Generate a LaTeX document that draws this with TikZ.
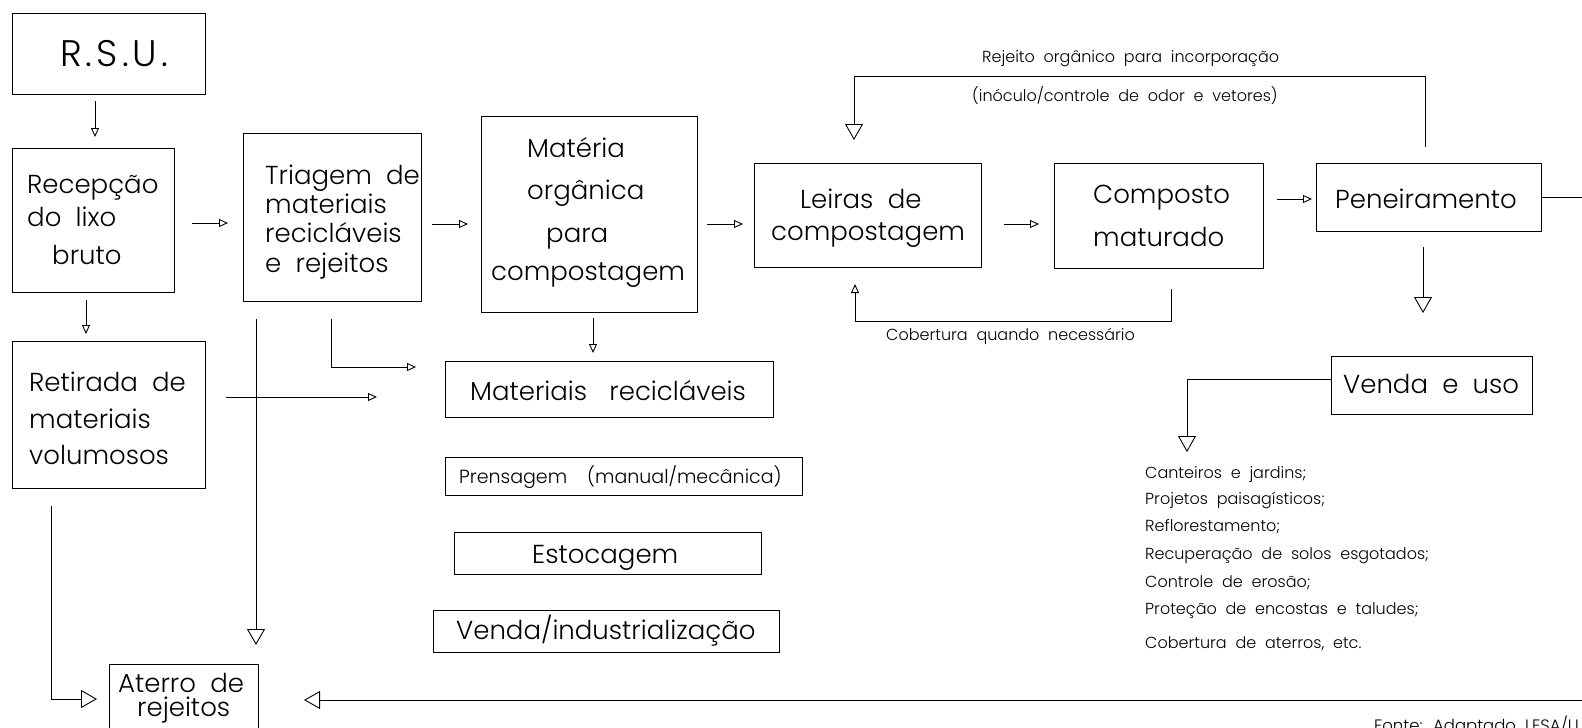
\documentclass[tikz,border=0pt]{standalone}
\usepackage{fontspec}
\setmainfont{Poppins}[UprightFont={* Light}, WordSpace=2]
\usetikzlibrary{arrows.meta}
\newcommand\myfs[1]{\fontsize{#1}{#1}\selectfont}
\tikzset{
  box/.style={draw, line width=0.9pt, inner sep=0pt, anchor=north west},
  ln/.style={line width=0.9pt},
  sa/.style={ln, -{Triangle[open, length=9pt, width=8pt]}},
  ba/.style={ln, -{Triangle[open, length=16pt, width=18pt]}},
  txt/.style={anchor=base west, inner sep=0pt, font=\myfs{26}},
  sm/.style={anchor=base west, inner sep=0pt, font=\myfs{16}},
}
\begin{document}
\begin{tikzpicture}[x=1pt, y=-1pt]
\useasboundingbox (0,0) rectangle (1582,728);
\clip (0,0) rectangle (1582,728);
\fill[white] (0,0) rectangle (1582,728);
% boxes
\node[box, minimum width=193pt, minimum height=81pt] (rsu) at (12,13) {};
\node[box, minimum width=162pt, minimum height=144pt] (rec) at (12,148) {};
\node[box, minimum width=178pt, minimum height=168pt] (tri) at (243,133) {};
\node[box, minimum width=216pt, minimum height=196pt] (mat) at (481,116) {};
\node[box, minimum width=227pt, minimum height=104pt] (lei) at (754,163) {};
\node[box, minimum width=209pt, minimum height=105pt] (com) at (1054,163) {};
\node[box, minimum width=225pt, minimum height=68pt] (pen) at (1316,163) {};
\node[box, minimum width=201pt, minimum height=58pt] (ven) at (1331,356) {};
\node[box, minimum width=193pt, minimum height=147pt] (ret) at (12,341) {};
\node[box, minimum width=328pt, minimum height=56pt] (mrec) at (445,361) {};
\node[box, minimum width=357pt, minimum height=38pt] (prs) at (445,457) {};
\node[box, minimum width=307pt, minimum height=42pt] (est) at (454,532) {};
\node[box, minimum width=346pt, minimum height=42pt] (vin) at (433,610) {};
\node[box, minimum width=149pt, minimum height=76pt] (ate) at (109,664) {};
% texts
\node[txt, font=\myfs{37}\addfontfeatures{LetterSpace=11}] (t0) at (60,66) {R.S.U.};
\node[txt] (t1) at (27,193) {Recepção};
\node[txt] (t2) at (27,226) {do lixo};
\node[txt] (t3) at (52,264) {bruto};
\node[txt] (t4) at (265,184) {Triagem de};
\node[txt] (t5) at (265,213) {materiais};
\node[txt] (t6) at (265,242) {recicláveis};
\node[txt] (t7) at (265,272) {e rejeitos};
\node[txt] (t8) at (527,157) {Matéria};
\node[txt] (t9) at (527,199) {orgânica};
\node[txt] (t10) at (546,242) {para};
\node[txt] (t11) at (491,280) {compostagem};
\node[txt] (t12) at (800,208) {Leiras de};
\node[txt] (t13) at (771,240) {compostagem};
\node[txt] (t14) at (1093,203) {Composto};
\node[txt] (t15) at (1093,246) {maturado};
\node[txt] (t16) at (1335,208) {Peneiramento};
\node[txt] (t17) at (1343,393) {Venda e uso};
\node[txt] (t18) at (470,400) {Materiais\hspace{8pt} recicláveis};
\node[txt, font=\myfs{19}] (t19) at (459,483) {Prensagem\hspace{20pt}(manual/mecânica)};
\node[txt] (t20) at (532,563) {Estocagem};
\node[txt] (t21) at (456,639) {Venda/industrialização};
\node[txt] (t22) at (29,391) {Retirada de};
\node[txt] (t23) at (29,428) {materiais};
\node[txt] (t24) at (29,464) {volumosos};
\node[txt] (t25) at (118,692) {Aterro de};
\node[txt] (t26) at (137,716) {rejeitos};
\node[sm] (l1) at (982,62) {Rejeito orgânico para incorporação};
\node[sm] (l2) at (972,101) {(inóculo/controle de odor e vetores)};
\node[sm] (l3) at (886,340) {Cobertura quando necessário};
\node[sm] (u1) at (1145,478) {Canteiros e jardins;};
\node[sm] (u2) at (1145,504) {Projetos paisagísticos;};
\node[sm] (u3) at (1145,531) {Reflorestamento;};
\node[sm] (u4) at (1145,559) {Recuperação de solos esgotados;};
\node[sm] (u5) at (1145,587) {Controle de erosão;};
\node[sm] (u6) at (1145,614) {Proteção de encostas e taludes;};
\node[sm] (u7) at (1145,648) {Cobertura de aterros, etc.};
\node[sm, font=\myfs{16.5}] (fo) at (1374,731) {Fonte: Adaptado LESA/U};
% connector endpoints
\coordinate (a1s) at (95,101);   \coordinate (a1e) at (95,137);
\coordinate (a2s) at (192,223);  \coordinate (a2e) at (228,223);
\coordinate (a3s) at (432,224);  \coordinate (a3e) at (468,224);
\coordinate (a4s) at (707,224);  \coordinate (a4e) at (743,224);
\coordinate (a5s) at (1004,224); \coordinate (a5e) at (1039,224);
\coordinate (a6s) at (1277,199); \coordinate (a6e) at (1312,199);
\coordinate (a7e) at (1590,197);
\coordinate (a8s) at (1425,147); \coordinate (a8a) at (1425,76);
\coordinate (a8b) at (854,76);   \coordinate (a8e) at (854,140);
\coordinate (a9s) at (1171,289); \coordinate (a9a) at (1171,321);
\coordinate (a9b) at (855,321);  \coordinate (a9e) at (855,284);
\coordinate (a10s) at (1423,247); \coordinate (a10e) at (1423,313);
\coordinate (a11a) at (1187,379); \coordinate (a11e) at (1187,452);
\coordinate (a12s) at (86,300);  \coordinate (a12e) at (86,334);
\coordinate (a13s) at (226,397); \coordinate (a13e) at (377,397);
\coordinate (a14s) at (256,319); \coordinate (a14e) at (256,645);
\coordinate (a15s) at (331,319); \coordinate (a15a) at (331,367);
\coordinate (a15e) at (416,367);
\coordinate (a16s) at (593,318); \coordinate (a16e) at (593,353);
\coordinate (a17s) at (51,506);  \coordinate (a17a) at (51,699);
\coordinate (a17e) at (97,699);
\coordinate (a18s) at (1590,700); \coordinate (a18e) at (304,700);
% connectors
\draw[sa] (a1s) -- (a1e);
\draw[sa] (a2s) -- (a2e);
\draw[sa] (a3s) -- (a3e);
\draw[sa] (a4s) -- (a4e);
\draw[sa] (a5s) -- (a5e);
\draw[sa] (a6s) -- (a6e);
\draw[ln] (pen.east |- a7e) -- (a7e);
\draw[ba] (a8s) -- (a8a) -- (a8b) -- (a8e);
\draw[sa] (a9s) -- (a9a) -- (a9b) -- (a9e);
\draw[ba] (a10s) -- (a10e);
\draw[ba] (ven.west |- a11a) -- (a11a) -- (a11e);
\draw[sa] (a12s) -- (a12e);
\draw[sa] (a13s) -- (a13e);
\draw[ba] (a14s) -- (a14e);
\draw[sa] (a15s) -- (a15a) -- (a15e);
\draw[sa] (a16s) -- (a16e);
\draw[ba] (a17s) -- (a17a) -- (a17e);
\draw[ba] (a18s) -- (a18e);
\end{tikzpicture}
\end{document}
